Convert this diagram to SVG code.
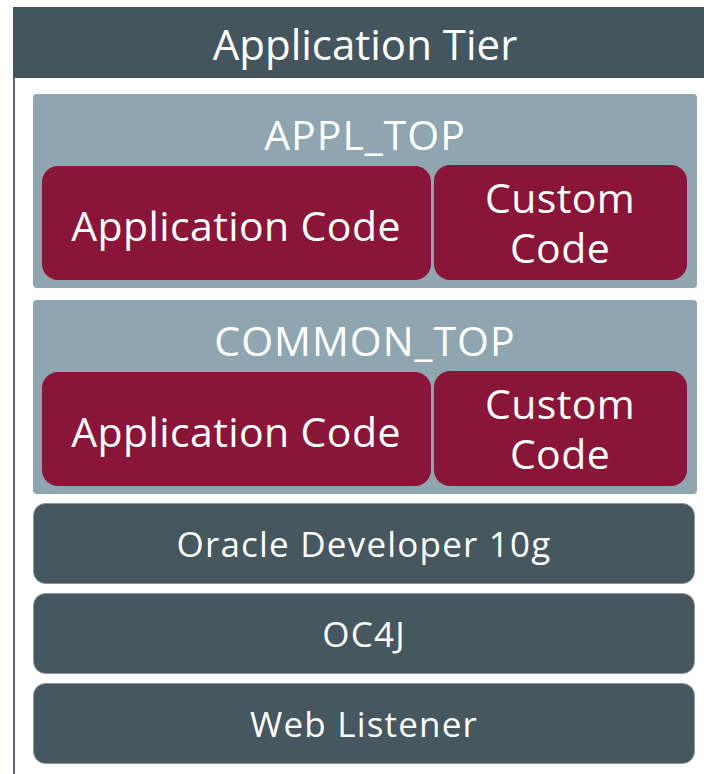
<svg xmlns="http://www.w3.org/2000/svg" width="704" height="774" viewBox="0 0 704 774">
<style>
text{font-family:"Open Sans","Noto Sans","DejaVu Sans",sans-serif;fill:#fff;text-anchor:middle}
.panel{fill:#8fa6b1}
.red{fill:#8a1538}
.dark{fill:#46575f;stroke:#8a979d;stroke-width:1}
.th{font-size:42px}
.tp{font-size:41px;letter-spacing:1px}
.tr{font-size:41px;letter-spacing:0.4px}
.td{font-size:35px;letter-spacing:1.2px}
</style>
<rect width="704" height="774" fill="#fff"/>
<g id="tier">
<rect x="13" y="7" width="691" height="71" fill="#44555e"/>
<line x1="14" y1="78" x2="14" y2="774" stroke="#5b6b72" stroke-width="2"/>
<text class="th" x="365" y="60">Application Tier</text>
</g>
<g id="appl_top">
<rect class="panel" x="33" y="94" width="664" height="194" rx="4"/>
<text class="tp" x="365" y="150">APPL_TOP</text>
</g>
<g id="appl_app_code">
<rect class="red" x="42" y="166" width="389" height="114" rx="16"/>
<text class="tr" x="236" y="241">Application Code</text>
</g>
<g id="appl_custom_code">
<rect class="red" x="434" y="165" width="253" height="115" rx="16"/>
<text class="tr" x="560" y="213">Custom<tspan x="560" dy="50">Code</tspan></text>
</g>
<g id="common_top">
<rect class="panel" x="33" y="300" width="664" height="194" rx="4"/>
<text class="tp" x="365" y="356">COMMON_TOP</text>
</g>
<g id="common_app_code">
<rect class="red" x="42" y="372" width="389" height="114" rx="16"/>
<text class="tr" x="236" y="447">Application Code</text>
</g>
<g id="common_custom_code">
<rect class="red" x="434" y="371" width="253" height="115" rx="16"/>
<text class="tr" x="560" y="419">Custom<tspan x="560" dy="50">Code</tspan></text>
</g>
<g id="oracle_dev">
<rect class="dark" x="33.5" y="503.5" width="661" height="80" rx="12"/>
<text class="td" x="364" y="557">Oracle Developer 10g</text>
</g>
<g id="oc4j">
<rect class="dark" x="33.5" y="593.5" width="661" height="80" rx="12"/>
<text class="td" x="364" y="647">OC4J</text>
</g>
<g id="web_listener">
<rect class="dark" x="33.5" y="683.5" width="661" height="80" rx="12"/>
<text class="td" x="364" y="737">Web Listener</text>
</g>
<g id="connectors"/>
</svg>
